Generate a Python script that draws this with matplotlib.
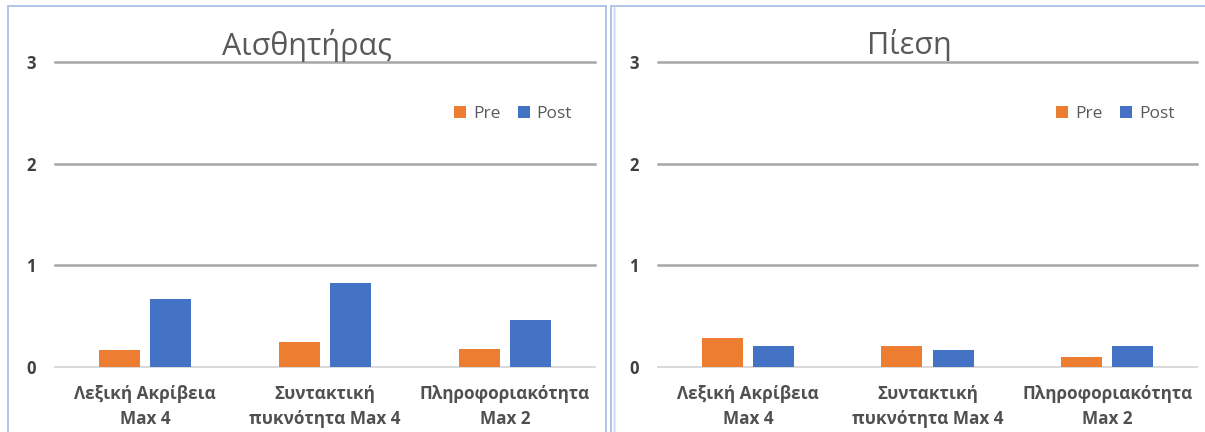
import matplotlib.pyplot as plt
import numpy as np
from matplotlib.patches import Rectangle

plt.rcParams['font.family'] = ['Open Sans', 'Noto Sans', 'DejaVu Sans']

categories = ['Λεξική Ακρίβεια\nMax 4', 'Συντακτική\nπυκνότητα Max 4', 'Πληροφοριακότητα\nMax 2']
series_names = ['Pre', 'Post']
titles = ['Αισθητήρας', 'Πίεση']

sensor_pre = [0.17, 0.25, 0.18]
sensor_post = [0.67, 0.83, 0.46]
pressure_pre = [0.29, 0.21, 0.10]
pressure_post = [0.21, 0.17, 0.21]

yticks = [0, 1, 2, 3]

ORANGE = '#ED7D31'
BLUE = '#4472C4'
W, H = 1205, 432

fig = plt.figure(figsize=(W / 100, H / 100), dpi=100)


def px(x0, y0, x1, y1):
    # pixel box (top-left origin) -> figure fraction rect
    return [x0 / W, 1 - y1 / H, (x1 - x0) / W, (y1 - y0) / H]


# panel frames
for x0, x1 in [(8, 606), (611, 1215)]:
    fig.patches.append(Rectangle((x0 / W, -0.05), (x1 - x0) / W, 1 - 6 / H + 0.05,
                                 transform=fig.transFigure, fill=False,
                                 edgecolor='#A9BFE6', linewidth=1.3))
fig.patches.append(Rectangle((614 / W, -0.05), 0, 1 - 6 / H + 0.05,
                             transform=fig.transFigure, fill=False,
                             edgecolor='#C9D7F0', linewidth=1.0))

panels = [
    (px(55, 62, 595, 367), 307, titles[0], sensor_pre, sensor_post),
    (px(658, 62, 1197, 367), 909, titles[1], pressure_pre, pressure_post),
]

x = np.arange(len(categories))
bw = 0.228
off = 0.143

for rect, tx, title, pre, post in panels:
    ax = fig.add_axes(rect)
    ax.bar(x - off, pre, bw, color=ORANGE, label=series_names[0], zorder=3)
    ax.bar(x + off, post, bw, color=BLUE, label=series_names[1], zorder=3)
    ax.set_xlim(-0.5, 2.5)
    ax.set_ylim(0, 3)
    for v in yticks:
        ax.axhline(v, color='#D9D9D9' if v == 0 else '#A6A6A6',
                   linewidth=1.4 if v == 0 else 1.8, zorder=1, clip_on=False)
    for s in ax.spines.values():
        s.set_visible(False)
    ax.set_yticks(yticks)
    ax.set_yticklabels([str(v) for v in yticks], fontsize=12, fontweight='bold', color='#404040')
    ax.tick_params(axis='y', length=0, pad=14)
    ax.set_xticks(x)
    ax.set_xticklabels(categories, fontsize=12.3, fontweight='bold', color='#505050',
                       linespacing=1.5)
    ax.tick_params(axis='x', length=0, pad=13)
    ax.patch.set_visible(False)
    ax.legend(loc='center', bbox_to_anchor=(0.848, 0.83), ncol=2, frameon=False,
              handlelength=0.7, handleheight=0.7, handletextpad=0.4,
              columnspacing=1.0, fontsize=12.5, labelcolor='#595959')
    fig.text(tx / W, 1 - 45 / H, title, ha='center', va='center',
             fontsize=22, color='#595959')

fig.savefig('out.png', dpi=100)
